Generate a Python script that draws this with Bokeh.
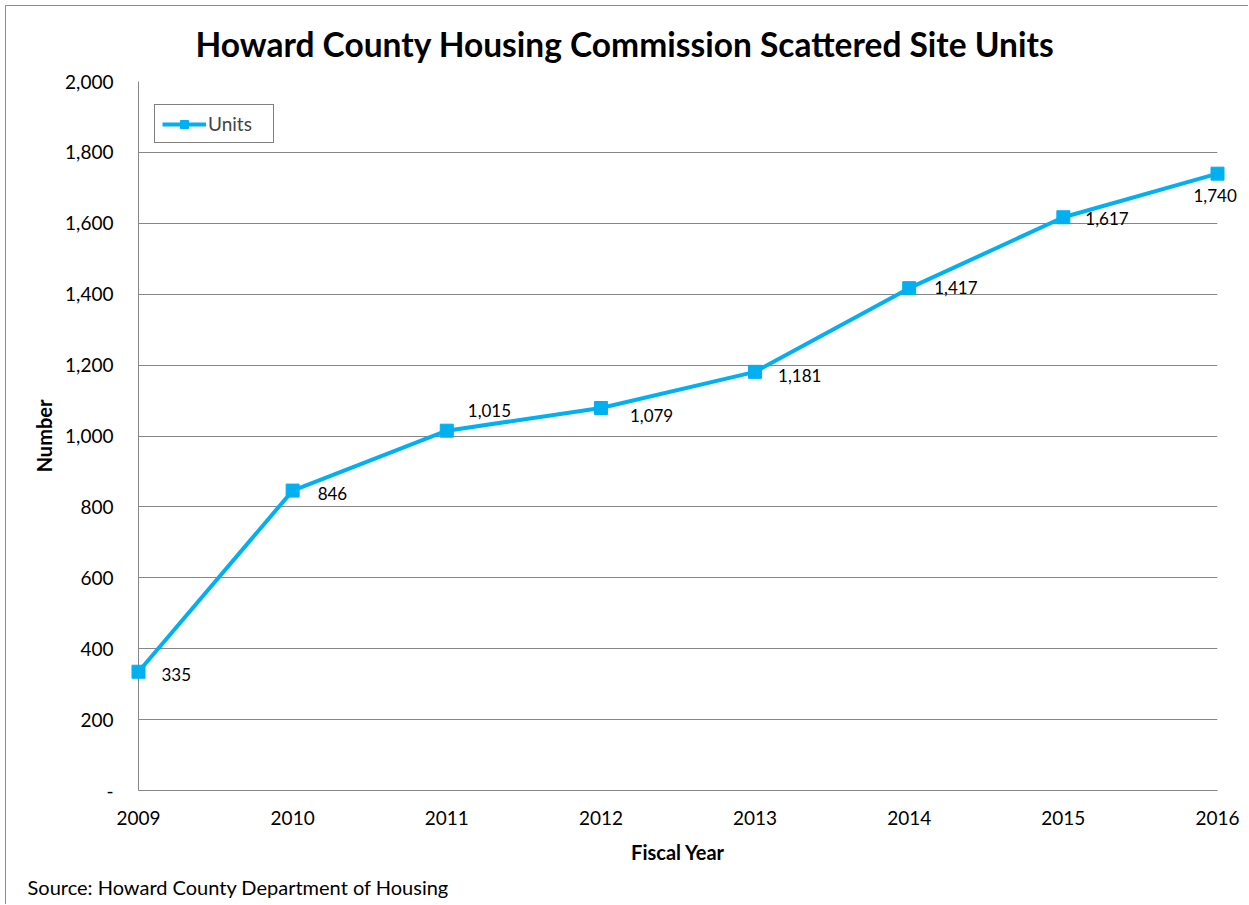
from bokeh.plotting import figure
from bokeh.models import (FixedTicker, Legend, LegendItem, ColumnDataSource,
                          Range1d, Title)
from bokeh.core.properties import value
from bokeh.embed import file_html
from bokeh.resources import INLINE

# ---- data ----
years = [2009, 2010, 2011, 2012, 2013, 2014, 2015, 2016]
units = [335, 846, 1015, 1079, 1181, 1417, 1617, 1740]
unit_labels = ["335", "846", "1,015", "1,079", "1,181", "1,417", "1,617", "1,740"]
y_ticks = [0, 200, 400, 600, 800, 1000, 1200, 1400, 1600, 1800, 2000]
y_tick_labels = ["-", "200", "400", "600", "800", "1,000", "1,200", "1,400", "1,600", "1,800", "2,000"]
x_tick_labels = ["2009", "2010", "2011", "2012", "2013", "2014", "2015", "2016"]

# label placement (screen pixels, right / down) relative to each point
label_dx = [23, 25, 21, 29, 23, 25, 22, -24]
label_dy = [3, 3, -20, 8, 4, -1, 1, 22]

FONT = "Lato"
BLUE = "#00B0F0"
GRID = "#868686"

W, H = 1248, 904
LEFT, RIGHT, TOP, BOTTOM = 138, 31, 81, 114

p = figure(width=W, height=H, output_backend="svg", toolbar_location=None,
           x_range=Range1d(2009, 2016), y_range=Range1d(0, 2000),
           min_border_left=LEFT, min_border_right=RIGHT, min_border_top=TOP,
           min_border_bottom=BOTTOM)
p.outline_line_color = None
p.background_fill_color = "white"
p.border_fill_color = "white"

# axes
p.xaxis.ticker = FixedTicker(ticks=years)
p.xaxis.major_label_overrides = {y: t for y, t in zip(years, x_tick_labels)}
p.yaxis.ticker = FixedTicker(ticks=y_ticks)
p.yaxis.major_label_overrides = {v: t for v, t in zip(y_ticks, y_tick_labels)}
for ax in (p.xaxis, p.yaxis):
    ax.major_tick_in = 0
    ax.major_tick_out = 0
    ax.minor_tick_line_color = None
    ax.axis_line_color = GRID
    ax.axis_line_width = 1
    ax.major_label_text_font = FONT
    ax.major_label_text_font_size = "19px"
    ax.major_label_text_color = "black"
    ax.axis_label_text_font = FONT
    ax.axis_label_text_font_style = "bold"
    ax.axis_label_text_font_size = "20px"
    ax.axis_label_text_color = "black"
p.xaxis.major_label_standoff = 20
p.yaxis.major_label_standoff = 25
p.xaxis.axis_label = "Fiscal Year"
p.yaxis.axis_label = "Number"
p.xaxis.axis_label_standoff = 12
p.yaxis.axis_label_standoff = 6

p.xgrid.visible = False
p.ygrid.ticker = FixedTicker(ticks=y_ticks)
p.ygrid.grid_line_color = GRID
p.ygrid.grid_line_width = 1

# outer chart border (left and top edges), pixel -> data conversion
def fx(px):
    return 2009 + (px - LEFT) * 7 / (W - LEFT - RIGHT)

def fy(py):
    return (H - BOTTOM - py) * 2000 / (H - TOP - BOTTOM)

p.segment(x0=[fx(5), fx(5)], y0=[fy(5), fy(5)], x1=[fx(5), fx(1400)], y1=[fy(1000), fy(5)],
          line_color="#8c8c8c", line_width=1, level="overlay")

# series
src = ColumnDataSource(dict(x=years, y=units, lab=unit_labels, dx=label_dx, dy=label_dy))
line_r = p.line("x", "y", source=src, line_color=BLUE, line_width=4, level="overlay")
sq_r = p.scatter("x", "y", source=src, marker="square", size=13,
                 fill_color=BLUE, line_color=BLUE, level="overlay")

p.text(x="x", y="y", text="lab", source=src, x_offset="dx", y_offset="dy",
       text_align="left", text_baseline="middle",
       text_font=value(FONT), text_font_size=value("17px"), text_color="black",
       level="overlay")

legend = Legend(items=[LegendItem(label="Units", renderers=[line_r, sq_r])],
                location=(16, 647), padding=7, glyph_width=44, glyph_height=20,
                label_standoff=2, label_width=58, label_height=20,
                label_text_font=FONT, label_text_font_size="19px",
                border_line_color="black", border_line_width=1,
                background_fill_color="white", background_fill_alpha=1)
p.add_layout(legend)

title = Title(text="Howard County Housing Commission Scattered Site Units",
              align="left", offset=57, vertical_align="middle", standoff=34,
              text_font=FONT, text_font_style="bold", text_font_size="33.5px",
              text_color="black")
p.add_layout(title, "above")

source_title = Title(text="Source: Howard County Department of Housing",
                     align="left", offset=-111, vertical_align="bottom", standoff=12,
                     text_font=FONT, text_font_style="normal", text_font_size="20px",
                     text_color="black")
p.add_layout(source_title, "below")

open("out.html", "w").write(file_html(p, INLINE))
